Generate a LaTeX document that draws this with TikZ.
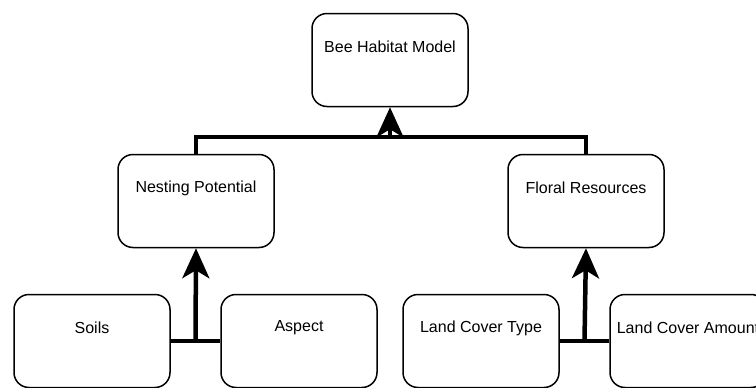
\documentclass[tikz,border=0pt]{standalone}
\usepackage{fontspec}
\setmainfont{Liberation Sans}
\usetikzlibrary{arrows.meta,calc}
\begin{document}
\begin{tikzpicture}[x=1pt,y=-1pt,
  box/.style={draw=black,line width=1.5pt,rounded corners=15pt,fill=white,
    minimum width=156pt,minimum height=93pt,inner sep=0pt},
  lbl/.style={font=\fontsize{16pt}{19pt}\selectfont,inner sep=0pt,anchor=center},
  conn/.style={line width=4.5pt},
  arr/.style={line width=4.5pt,-{Stealth[length=30pt,width=27pt,inset=8pt]}}]
\useasboundingbox (0,0) rectangle (756,388);
\clip (0,0) rectangle (756,388);
\node[box] (top) at (390,60) {};
\node[lbl] (topT) at (390,47) {Bee Habitat Model};
\node[box] (nest) at (196,201) {};
\node[lbl] (nestT) at (196,188) {Nesting Potential};
\node[box] (flor) at (586,201) {};
\node[lbl] (florT) at (586,188) {Floral Resources};
\node[box] (soils) at (92,341) {};
\node[lbl] (soilsT) at (92,328) {Soils};
\node[box] (aspect) at (299,341) {};
\node[lbl] (aspectT) at (299,328) {Aspect};
\node[box] (lct) at (481,341) {};
\node[lbl] (lctT) at (481,328) {Land Cover Type};
\node[box] (lca) at (688,341) {};
\node[lbl] (lcaT) at (688,328) {Land Cover Amount};
% top level
\coordinate (jt) at (390,137);
\draw[conn] (nest.north) |- (jt) -| (flor.north);
\draw[arr] (jt) -- (top.south);
% nesting
\coordinate (jn) at ($(soils.east)!0.5!(aspect.west)$);
\draw[conn] (soils.east) -- (aspect.west);
\draw[arr] (jn) -- (nest.south);
% floral
\coordinate (jf) at ($(lct.east)!0.5!(lca.west)$);
\draw[conn] (lct.east) -- (lca.west);
\draw[arr] (jf) -- (flor.south);
\end{tikzpicture}
\end{document}
